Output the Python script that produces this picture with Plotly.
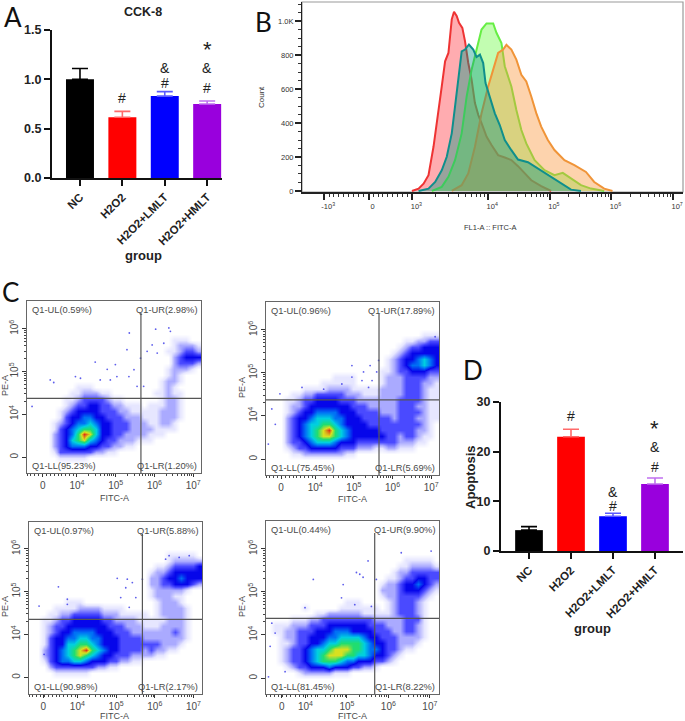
import numpy as np
import plotly.graph_objects as go

W, H = 685, 721

# ---------------- bar panels ----------------
GROUPS = ["NC", "H2O2", "H2O2+LMLT", "H2O2+HMLT"]
BAR_COLORS = ["#000000", "#ff0000", "#0000ff", "#9900dd"]
ERR_COLORS = ["#000000", "#ff6a6a", "#5a5aff", "#c070f0"]
CCK8 = [1.0, 0.615, 0.83, 0.75]
CCK8_ERR = [0.11, 0.06, 0.045, 0.03]
APOP = [4.2, 23.0, 7.0, 13.5]
APOP_ERR = [0.7, 1.5, 0.6, 1.2]
CCK8_MARKS = [("H2O2", 0.81, "#"), ("H2O2+LMLT", 0.96, "#"), ("H2O2+LMLT", 1.11, "&"),
              ("H2O2+HMLT", 0.91, "#"), ("H2O2+HMLT", 1.11, "&"), ("H2O2+HMLT", 1.30, "*")]
APOP_MARKS = [("H2O2", 27.2, "#"), ("H2O2+LMLT", 9.05, "#"), ("H2O2+LMLT", 11.9, "&"),
              ("H2O2+HMLT", 16.9, "#"), ("H2O2+HMLT", 20.9, "&"), ("H2O2+HMLT", 24.7, "*")]

# ---------------- histogram panel (x = decades on the display scale, y = count) ----------------
RED_X = [2.763, 2.871, 2.952, 3.032, 3.113, 3.194, 3.247, 3.301, 3.355, 3.409, 3.446, 3.489, 3.527, 3.581, 3.624,
         3.677, 3.731, 3.785, 3.839, 3.892, 3.973, 4.054, 4.161, 4.269, 4.376, 4.484, 4.591, 4.699, 4.860, 5.022]
RED_Y = [0, 14, 43, 93, 260, 457, 615, 763, 812, 1010, 1055, 1030, 990, 960, 882,
         753, 655, 517, 448, 399, 320, 270, 211, 197, 182, 146, 103, 63, 28, 0]
TEAL_X = [2.871, 3.032, 3.140, 3.247, 3.328, 3.409, 3.462, 3.516, 3.570, 3.624, 3.688, 3.758, 3.812, 3.866, 3.919,
          3.957, 4.027, 4.108, 4.188, 4.269, 4.376, 4.484, 4.645, 4.806, 4.968, 5.129, 5.344, 5.505]
TEAL_Y = [0, 14, 53, 122, 201, 339, 497, 655, 822, 832, 862, 832, 788, 802, 753,
          635, 556, 457, 388, 299, 240, 185, 169, 132, 93, 53, 8, 0]
GREEN_X = [3.086, 3.247, 3.355, 3.462, 3.570, 3.651, 3.731, 3.812, 3.892, 3.973, 4.081, 4.134, 4.215, 4.269, 4.376,
           4.457, 4.538, 4.618, 4.753, 4.914, 5.075, 5.210, 5.344, 5.505, 5.667, 5.882]
GREEN_Y = [0, 24, 83, 181, 339, 556, 714, 832, 950, 986, 986, 931, 871, 734, 615,
           477, 359, 280, 181, 122, 93, 107, 73, 34, 14, 0]
ORANGE_X = [3.409, 3.570, 3.677, 3.785, 3.892, 4.0, 4.081, 4.161, 4.242, 4.296, 4.376, 4.457, 4.538, 4.618, 4.699,
            4.780, 4.860, 4.968, 5.075, 5.237, 5.398, 5.586, 5.720, 5.882, 6.016]
ORANGE_Y = [0, 34, 103, 260, 457, 615, 714, 812, 832, 860, 832, 773, 684, 645, 556,
            458, 379, 300, 241, 181, 152, 112, 53, 14, 0]
HIST_TICKS = [1.34, 2.06, 2.77, 4, 5, 6, 7]
HIST_LABELS = ["-10<sup>3</sup>", "0", "10<sup>3</sup>", "10<sup>4</sup>", "10<sup>5</sup>", "10<sup>6</sup>", "10<sup>7</sup>"]

# ---------------- dot plots: estimated density per cell, {row: [(first column, levels), ...]} on a 29x29 grid ----------------
C1_DENSITY = {
    6: [(24, "111")], 7: [(24, "12221")], 8: [(23, "112332")], 9: [(24, "23444")], 10: [(24, "23332")],
    11: [(23, "12221")], 12: [(23, "121")], 13: [(22, "1221")], 14: [(8, "111"), (22, "121")],
    15: [(7, "1122211"), (21, "11211")], 16: [(6, "1123333211"), (22, "1221")],
    17: [(6, "12334433221"), (17, "11"), (20, "111221")], 18: [(5, "12344443332211"), (19, "1112221")],
    19: [(5, "134455443332221"), (20, "112221")], 20: [(4, "12345565443332221"), (21, "1221")],
    21: [(4, "134567764433322221"), (22, "111")], 22: [(4, "234579864433222211"), (22, "1")],
    23: [(4, "23467865433222111")], 24: [(4, "23455544332211")], 25: [(4, "13333332211")], 26: [(5, "11111")],
}
C2_DENSITY = {
    5: [(26, "111")], 6: [(23, "112233")], 7: [(22, "1233444")], 8: [(21, "12344444")], 9: [(20, "123445654")],
    10: [(20, "123455654")], 11: [(19, "1123344433")], 12: [(11, "1111"), (19, "1222333322")],
    13: [(9, "111111"), (19, "1222333221")], 14: [(6, "111122221111"), (18, "12222333211")],
    15: [(4, "112233333222111"), (19, "2222333211")], 16: [(3, "1123344443332222"), (19, "2223333211")],
    17: [(3, "12234444444333222"), (20, "223332211")], 18: [(3, "12344555544433332"), (20, "223333211")],
    19: [(3, "23445666554443333"), (20, "323332211")], 20: [(3, "23456677654444333"), (20, "33333321")],
    21: [(3, "23456789765444443"), (20, "33333221")], 22: [(3, "23456788765444444"), (20, "33233211")],
    23: [(3, "23345666544433333"), (20, "3322211")], 24: [(3, "12334444433322211"), (20, "22111")],
    25: [(4, "11222222211")],
}
C3_DENSITY = {
    5: [(23, "11111")], 6: [(23, "122222")], 7: [(21, "11233334")], 8: [(20, "122344444")], 9: [(20, "223445444")],
    10: [(20, "223344432")], 11: [(20, "1222221")], 12: [(20, "122211")], 13: [(6, "111"), (21, "12221")],
    14: [(4, "111122221111"), (21, "122221")], 15: [(3, "11223333322211111"), (21, "122221")],
    16: [(2, "112334444433222211"), (20, "1112221")], 17: [(2, "123344444443332221"), (20, "1122221")],
    18: [(2, "123445555444333222"), (20, "2222321")], 19: [(2, "134455665544433332"), (20, "2222221")],
    20: [(2, "134466776544433333"), (20, "332221")], 21: [(2, "234567897654433332"), (20, "32211")],
    22: [(2, "234567876544333222"), (20, "211")], 23: [(2, "13455665444332211")],
    24: [(3, "233333332211")], 25: [(4, "111111")],
}
C4_DENSITY = {
    6: [(23, "11111")], 7: [(22, "1122221")], 8: [(21, "12233333")], 9: [(20, "112334433")],
    10: [(19, "1223445432")], 11: [(19, "2223444321")], 12: [(19, "122333321")],
    13: [(13, "111"), (20, "1233321")], 14: [(6, "1"), (12, "1111111"), (20, "1233321")],
    15: [(8, "112222221111"), (20, "1233321")], 16: [(4, "1112233333333322"), (20, "2223331")],
    17: [(1, "1112223334444444333"), (20, "2223321")], 18: [(1, "1122333444555444433"), (20, "3223321")],
    19: [(2, "122334445566665443"), (20, "3322221")], 20: [(2, "112334456677776544"), (20, "332221")],
    21: [(2, "1233456678887765544"), (20, "33211")], 22: [(2, "123345678887766544"), (20, "321")],
    23: [(2, "123345677765544433"), (20, "21")], 24: [(3, "1233444544433221")], 25: [(5, "122222111")],
}
# isolated events visible outside the dense clouds (decades on the display scale)
C1_DOT_X = [5.35, 3.31, 3.40, 2.84, 4.47, 5.29, 4.99, 5.64, 6.03, 6.37, 6.41, 4.78, 5.47, 5.34, 4.09, 3.96, 4.60, 5.55, 5.72, 6.07, 6.24, 5.94, 5.81, 5.03, 4.86]
C1_DOT_Y = [5.90, 4.80, 4.74, 4.18, 5.22, 5.51, 5.16, 5.31, 5.99, 6.02, 5.94, 5.05, 5.04, 4.88, 4.84, 4.88, 4.80, 4.65, 4.65, 5.43, 5.66, 5.62, 5.47, 4.88, 4.80]
C2_DOT_X = [5.42, 5.25, 4.95, 4.95, 4.69, 4.22, 3.09, 2.88, 2.97, 5.59, 5.21, 5.47, 2.79, 5.64, 7.10, 3.66, 5.38]
C2_DOT_Y = [5.17, 5.02, 5.17, 4.90, 4.74, 4.62, 4.51, 4.16, 3.80, 5.02, 4.82, 4.82, 3.34, 5.29, 5.84, 4.66, 4.66]
C3_DOT_X = [3.51, 5.03, 5.29, 5.42, 3.74, 3.74, 5.25, 5.12, 5.51, 5.68, 6.37, 6.89, 3.01, 3.14, 6.63, 5.34, 6.28]
C3_DOT_Y = [5.11, 5.31, 5.29, 5.21, 4.82, 4.70, 5.09, 4.86, 4.86, 5.29, 5.84, 5.84, 4.66, 3.53, 5.80, 4.63, 5.76]
C4_DOT_X = [4.19, 5.51, 5.31, 5.39, 4.91, 5.23, 4.87, 3.99, 3.19, 3.27, 3.11, 3.03, 3.15, 7.03, 6.31, 5.71, 5.19, 5.59, 3.51]
C4_DOT_Y = [5.29, 5.72, 5.41, 5.34, 5.17, 5.45, 4.86, 4.63, 4.27, 4.04, 3.02, 3.02, 3.73, 5.95, 5.91, 5.29, 4.70, 4.66, 3.14]
C1_QUAD = ["Q1-UL(0.59%)", "Q1-UR(2.98%)", "Q1-LL(95.23%)", "Q1-LR(1.20%)"]
C2_QUAD = ["Q1-UL(0.96%)", "Q1-UR(17.89%)", "Q1-LL(75.45%)", "Q1-LR(5.69%)"]
C3_QUAD = ["Q1-UL(0.97%)", "Q1-UR(5.88%)", "Q1-LL(90.98%)", "Q1-LR(2.17%)"]
C4_QUAD = ["Q1-UL(0.44%)", "Q1-UR(9.90%)", "Q1-LL(81.45%)", "Q1-LR(8.22%)"]

SANS = "Liberation Sans"
GREY = "#4a4a4a"
fig = go.Figure()
annotations, shapes = [], []
layout = {}


def dom_x(a, b):
    return [a / W, b / W]


def dom_y(top, bottom):
    return [1 - bottom / H, 1 - top / H]


def label(px, py, text, size, color="#111111", family=SANS, bold=False, angle=0, anchor="center"):
    annotations.append(dict(xref="paper", yref="paper", x=px / W, y=1 - py / H, text=f"<b>{text}</b>" if bold else text,
                            showarrow=False, textangle=angle, xanchor=anchor, yanchor="middle",
                            font=dict(size=size, color=color, family=family)))


def bar_panel(n, left, right, top, bottom, values, errors, marks, ymax, ytickstep, xrange, yfmt):
    xa, ya = f"x{n}", f"y{n}"
    for g, v, e, c, ec in zip(GROUPS, values, errors, BAR_COLORS, ERR_COLORS):
        fig.add_trace(go.Bar(x=[g], y=[v], width=0.66, marker=dict(color=c, line=dict(width=0)),
                             error_y=dict(type="data", symmetric=False, array=[e], arrayminus=[0], color=ec, thickness=1.6, width=8),
                             xaxis=xa, yaxis=ya, showlegend=False))
    layout[f"xaxis{n}"] = dict(domain=dom_x(left, right), anchor=ya, range=xrange, type="category",
                               categoryorder="array", categoryarray=GROUPS, showline=True, linecolor="#111", linewidth=2,
                               ticks="outside", ticklen=6, tickwidth=2, tickcolor="#111", tickangle=-45, showgrid=False,
                               tickfont=dict(family=SANS, size=11.5, color="#222", weight="bold"))
    layout[f"yaxis{n}"] = dict(domain=dom_y(top, bottom), anchor=xa, range=[0, ymax], dtick=ytickstep, tickformat=yfmt, showline=True,
                               linecolor="#111", linewidth=2, ticks="outside", ticklen=6, tickwidth=2, tickcolor="#111",
                               showgrid=False, zeroline=False, tickfont=dict(family=SANS, size=12.5, color="#222", weight="bold"))
    for g, y, s in marks:
        annotations.append(dict(xref=xa, yref=ya, x=g, y=y, text=s, showarrow=False, xanchor="center", yanchor="middle",
                                font=dict(family=SANS, size=22 if s == "*" else 14, color="#222")))


bar_panel(1, 52, 222, 30, 178, CCK8, CCK8_ERR, CCK8_MARKS, 1.5, 0.5, [-0.66, 3.35], ".1f")
bar_panel(2, 501, 683, 402, 551, APOP, APOP_ERR, APOP_MARKS, 30, 10, [-0.667, 3.667], "d")
label(143, 12, "CCK-8", 12.5, bold=True, color="#222")
label(143, 255, "group", 13, bold=True, color="#222")
label(592, 628, "group", 13, bold=True, color="#222")
label(470, 477, "Apoptosis", 13, bold=True, angle=-90, color="#222")

# ---- histogram
HIST = [(RED_X, RED_Y, "#ee3333", "rgba(255,70,80,0.45)"),
        (GREEN_X, GREEN_Y, "#66ee44", "rgba(110,250,70,0.42)"),
        (ORANGE_X, ORANGE_Y, "#f09438", "rgba(250,150,60,0.42)"),
        (TEAL_X, TEAL_Y, "#0f8f8c", "rgba(0,150,130,0.40)")]
for hx, hy, lc, fc in HIST:
    fig.add_trace(go.Scatter(x=hx, y=hy, mode="lines", line=dict(color=lc, width=2), fill="tozeroy", fillcolor=fc,
                             xaxis="x3", yaxis="y3", showlegend=False))
hist_minor = [k + np.log10(m) for k in (4, 5, 6) for m in range(2, 10)] + [2.77 + 1.23 * np.log10(m) for m in range(2, 10)] \
    + list(np.linspace(1.34, 2.77, 19))
layout["xaxis3"] = dict(domain=dom_x(302, 683), anchor="y3", range=[0.98, 7.16], tickmode="array", tickvals=HIST_TICKS,
                        ticktext=HIST_LABELS, ticks="outside", ticklen=6, tickwidth=1.5, tickcolor="#222", showline=True,
                        linecolor="#222", linewidth=1.5, showgrid=False, zeroline=False, ticklabelshift=4,
                        tickfont=dict(family=SANS, size=7.5, color="#333"),
                        minor=dict(ticks="outside", ticklen=3, tickwidth=1, tickcolor="#333", tickmode="array", tickvals=hist_minor))
layout["yaxis3"] = dict(domain=dom_y(2, 192), anchor="x3", range=[-6, 1112], tickmode="array", tickvals=[0, 200, 400, 600, 800, 1000],
                        ticktext=["0", "200", "400", "600", "800", "1.0K"], ticks="outside", ticklen=6, tickwidth=1.5, tickcolor="#222",
                        showline=True, linecolor="#222", linewidth=1, showgrid=False, zeroline=False,
                        tickfont=dict(family=SANS, size=7.5, color="#333"),
                        minor=dict(ticks="outside", ticklen=3, tickwidth=1, tickcolor="#333", dtick=50))
shapes.append(dict(type="rect", xref="x3 domain", yref="y3 domain", x0=0, x1=1, y0=0, y1=1, line=dict(color="#9a9a9a", width=1.2), layer="below"))
label(262, 97, "Count", 8, angle=-90, color="#333")
label(491, 227, "FL1-A :: FITC-A", 7.5, color="#333")

# ---- dot plots
SCALE = [[0, "#ffffff"], [1 / 9, "#e6e6ff"], [2 / 9, "#aaaaff"], [3 / 9, "#4a4aff"], [4 / 9, "#0606ea"], [5 / 9, "#0070f5"],
         [6 / 9, "#00cfe0"], [7 / 9, "#20dd70"], [8 / 9, "#d8e020"], [1, "#e03015"]]
PANELS = [
    dict(n=4, box=(27, 201, 301, 473), xr=(2.71, 7.20), yr=(2.62, 6.65), x0=3.12, y0=2.99, qx=5.65, qy=4.37, d=C1_DENSITY, dx=C1_DOT_X, dy=C1_DOT_Y, q=C1_QUAD, t=(114, 498), p=(5, 386)),
    dict(n=5, box=(266, 439, 302, 475), xr=(2.73, 7.20), yr=(2.62, 6.65), x0=3.12, y0=2.99, qx=5.65, qy=4.37, d=C2_DENSITY, dx=C2_DOT_X, dy=C2_DOT_Y, q=C2_QUAD, t=(353, 499), p=(242, 388)),
    dict(n=6, box=(29, 202, 522, 694), xr=(2.75, 7.22), yr=(2.60, 6.63), x0=3.12, y0=2.99, qx=5.68, qy=4.35, d=C3_DENSITY, dx=C3_DOT_X, dy=C3_DOT_Y, q=C3_QUAD, t=(115, 716), p=(5, 607)),
    dict(n=7, box=(266, 439, 521, 694), xr=(3.05, 7.22), yr=(2.62, 6.65), x0=3.43, y0=2.99, qx=5.67, qy=4.38, d=C4_DENSITY, dx=C4_DOT_X, dy=C4_DOT_Y, q=C4_QUAD, t=(353, 716), p=(242, 607)),
]
XT = ["0", "10<sup>4</sup>", "10<sup>5</sup>", "10<sup>6</sup>", "10<sup>7</sup>"]
YT = ["0", "10<sup>4</sup>", "10<sup>5</sup>", "10<sup>6</sup>"]
for P in PANELS:
    n = P["n"]
    l, r, t, b = P["box"]
    grid = np.zeros((29, 29))
    for row, segs in P["d"].items():
        for col, digits in segs:
            for i, ch in enumerate(digits):
                if col + i < 29:
                    grid[row, col + i] = int(ch)
    dx = (P["xr"][1] - P["xr"][0]) / 29
    dy = (P["yr"][1] - P["yr"][0]) / 29
    gx = P["xr"][0] + dx * (np.arange(29) + 0.5)
    gy = P["yr"][1] - dy * (np.arange(29) + 0.5)
    fig.add_trace(go.Heatmap(x=gx, y=gy, z=grid, zmin=0, zmax=9, colorscale=SCALE, zsmooth="best", showscale=False,
                             hoverinfo="skip", xaxis=f"x{n}", yaxis=f"y{n}"))
    fig.add_trace(go.Scatter(x=P["dx"], y=P["dy"], mode="markers", marker=dict(size=1.8, color="rgba(40,40,230,0.75)"),
                             xaxis=f"x{n}", yaxis=f"y{n}", showlegend=False))
    x_minor = [k + np.log10(m) for k in (4, 5, 6) for m in range(2, 10)] + [P["xr"][0] + 0.1 * i for i in range(13)]
    y_minor = [k + np.log10(m) for k in (4, 5) for m in range(2, 10)]
    layout[f"xaxis{n}"] = dict(domain=dom_x(l, r), anchor=f"y{n}", range=list(P["xr"]), tickmode="array", tickvals=[P["x0"], 4, 5, 6, 7],
                               ticktext=XT, ticks="outside", ticklen=3, tickcolor="#333", showline=True, linecolor="#666", linewidth=1.3,
                               mirror=True, showgrid=False, zeroline=False, tickfont=dict(family=SANS, size=10, color=GREY),
                               minor=dict(ticks="outside", ticklen=2, tickcolor="#444", tickmode="array", tickvals=x_minor))
    layout[f"yaxis{n}"] = dict(domain=dom_y(t, b), anchor=f"x{n}", range=list(P["yr"]), tickmode="array", tickvals=[P["y0"], 4, 5, 6],
                               ticktext=YT, ticks="outside", ticklen=4, tickcolor="#333", showline=True, linecolor="#666", linewidth=1.3,
                               mirror=True, showgrid=False, zeroline=False, tickangle=-90, tickfont=dict(family=SANS, size=10, color=GREY),
                               minor=dict(ticks="outside", ticklen=2, tickcolor="#444", tickmode="array", tickvals=y_minor))
    lc = "#555555"
    shapes.append(dict(type="line", xref=f"x{n}", yref=f"y{n} domain", x0=P["qx"], x1=P["qx"], y0=0, y1=0.93, line=dict(color=lc, width=1.2)))
    shapes.append(dict(type="line", xref=f"x{n} domain", yref=f"y{n}", x0=0, x1=1, y0=P["qy"], y1=P["qy"], line=dict(color=lc, width=1.2)))
    ul, ur, ll, lr = P["q"]
    label(l + 3, t + 9, ul, 9.3, color=GREY, anchor="left")
    label(r - 2, t + 9, ur, 9.3, color=GREY, anchor="right")
    label(l + 3, b - 7, ll, 9.3, color=GREY, anchor="left")
    label(r - 2, b - 7, lr, 9.3, color=GREY, anchor="right")
    label(P["t"][0], P["t"][1], "FITC-A", 9, color=GREY)
    label(P["p"][0], P["p"][1], "PE-A", 9, color=GREY, angle=-90)

LETTER = "Lato"
label(13, 17, "A", 26, family=LETTER, color="#111")
label(263, 22, "B", 26, family=LETTER, color="#111")
label(10, 292, "C", 26, family=LETTER, color="#111")
label(473, 370, "D", 26, family=LETTER, color="#111")

fig.update_layout(width=W, height=H, margin=dict(l=0, r=0, t=0, b=0, pad=0, autoexpand=False), paper_bgcolor="white", plot_bgcolor="white",
                  barmode="overlay", annotations=annotations, shapes=shapes, showlegend=False, **layout)
fig.write_html("out.html", post_script="document.body.style.margin='0';", config={"displayModeBar": False})
